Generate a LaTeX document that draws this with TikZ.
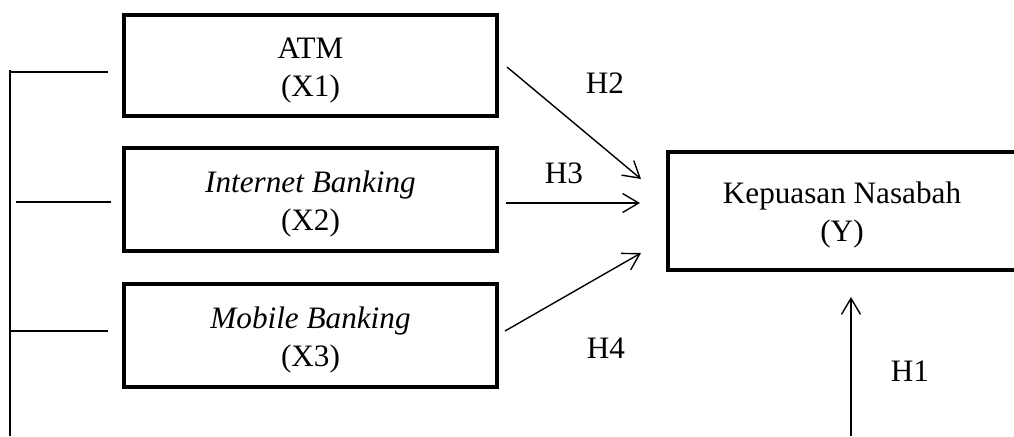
\documentclass[tikz,border=0pt]{standalone}
\usepackage{fontspec}
\setmainfont{Liberation Serif}
\usetikzlibrary{calc,arrows.meta}
% tall strut on the first line pushes the two-line labels a little lower
\newcommand{\toppad}{\rule{0pt}{15.2pt}}
\begin{document}
\begin{tikzpicture}[x=0.5pt,y=-0.5pt,
  varbox/.style={draw,line width=2pt,minimum width=186.5pt,align=center,
    font=\fontsize{15.6pt}{19pt}\selectfont,inner sep=0pt},
  arr/.style={line width=0.7pt,-{Straight Barb[length=8pt,width=9.5pt,line width=0.7pt]}},
  link/.style={line width=0.9pt},
  hlabel/.style={font=\fontsize{15.6pt}{19pt}\selectfont,inner sep=0pt}]
\useasboundingbox (0,0) rectangle (1014,436);
\clip (0,0) rectangle (1014,436);

% independent variables
\node[varbox,minimum height=50.5pt] (x1) at (310.5,65.5) {\toppad ATM\\(X1)};
\node[varbox,minimum height=51.5pt] (x2) at (310.5,199.5) {\toppad\textit{Internet Banking}\\(X2)};
\node[varbox,minimum height=51.5pt] (x3) at (310.5,335.5) {\toppad\textit{Mobile Banking}\\(X3)};

% dependent variable
\node[varbox,minimum width=174pt,minimum height=59pt] (y) at (842,211) {\toppad Kepuasan Nasabah\\(Y)};

% hypothesis arrows
\draw[arr] ($(x1.east)+(8,1.5)$) -- ($(y.west)+(-25,-32)$);
\draw[arr] ($(x2.east)+(7,3.5)$) -- ($(y.west)+(-26,-8)$);
\draw[arr] ($(x3.east)+(6,-4.5)$) -- ($(y.west)+(-25,42)$);
\coordinate (h1s) at (851,436);
\draw[arr] (h1s) -- ($(y.south)+(9,25)$);

\node[hlabel] (h2) at (605,83) {H2};
\node[hlabel] (h3) at (564,173) {H3};
\node[hlabel] (h4) at (606,348) {H4};
\node[hlabel] (h1) at (910,371) {H1};

% simultaneous bracket on the left
\coordinate (btop) at (10,70);
\coordinate (bbot) at (10,436);
\draw[link] (btop) -- (bbot);
\draw[link] ($(x1.west)+(-14,6.5)$) -- ++(-98,0);
\draw[link] ($(x2.west)+(-11,2.5)$) -- ++(-95,0);
\draw[link] ($(x3.west)+(-14,-4.5)$) -- ++(-99,0);
\end{tikzpicture}
\end{document}
